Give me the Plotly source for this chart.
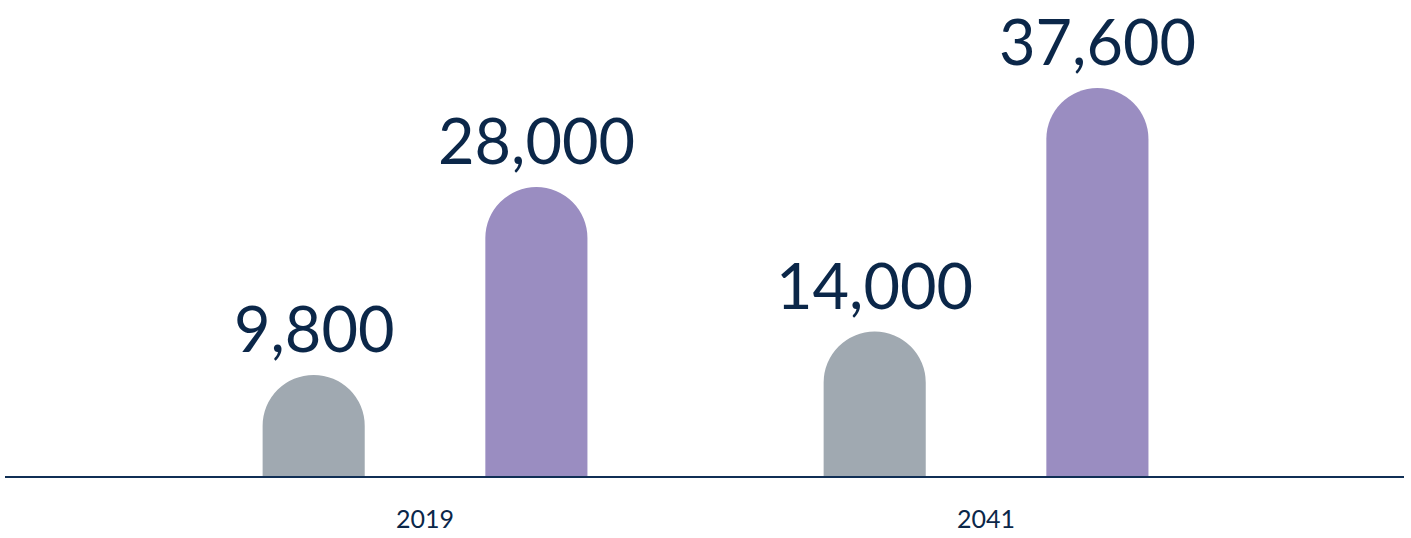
import plotly.graph_objects as go

years = ["2019", "2041"]
series_names = ["Series A", "Series B"]
gray_values = [9800, 14000]
purple_values = [28000, 37600]
gray_labels = ["9,800", "14,000"]
purple_labels = ["28,000", "37,600"]

NAVY = "#0b2749"
LINE = "#102f55"
GRAY = "#a0a9b1"
PURPLE = "#9a8dc1"

bar_w = 0.182
half_gap = 0.1985

fig = go.Figure()
fig.add_trace(go.Bar(
    x=years, y=gray_values, name=series_names[0],
    marker=dict(color=GRAY, cornerradius="50%", line=dict(width=0)),
    width=bar_w, offset=-half_gap - bar_w / 2,
    hoverinfo="skip",
))
fig.add_trace(go.Bar(
    x=years, y=purple_values, name=series_names[1],
    marker=dict(color=PURPLE, cornerradius="50%", line=dict(width=0)),
    width=bar_w, offset=half_gap - bar_w / 2,
    hoverinfo="skip",
))

annotations = []
for i, yr in enumerate(years):
    for vals, labs, sign in ((gray_values, gray_labels, -1), (purple_values, purple_labels, 1)):
        annotations.append(dict(
            x=i + sign * half_gap, y=vals[i], xref="x", yref="y",
            text=labs[i], showarrow=False, xanchor="center", yanchor="bottom",
            yshift=8,
            font=dict(family="Lato", size=63, color=NAVY),
        ))

fig.update_layout(
    width=1411, height=538,
    margin=dict(l=5, r=7, t=8, b=59),
    paper_bgcolor="white", plot_bgcolor="white",
    showlegend=False,
    barmode="group",
    annotations=annotations,
    xaxis=dict(
        type="category", range=[-0.7487, 1.745],
        showline=True, linecolor=LINE, linewidth=2,
        showgrid=False, zeroline=False, ticks="",
        tickfont=dict(family="Lato", size=25, color=NAVY),
        ticklabelstandoff=20,
    ),
    yaxis=dict(
        range=[0, 45362], showgrid=False, zeroline=False,
        showticklabels=False, showline=False, ticks="",
    ),
)

fig.write_html("out.html")
